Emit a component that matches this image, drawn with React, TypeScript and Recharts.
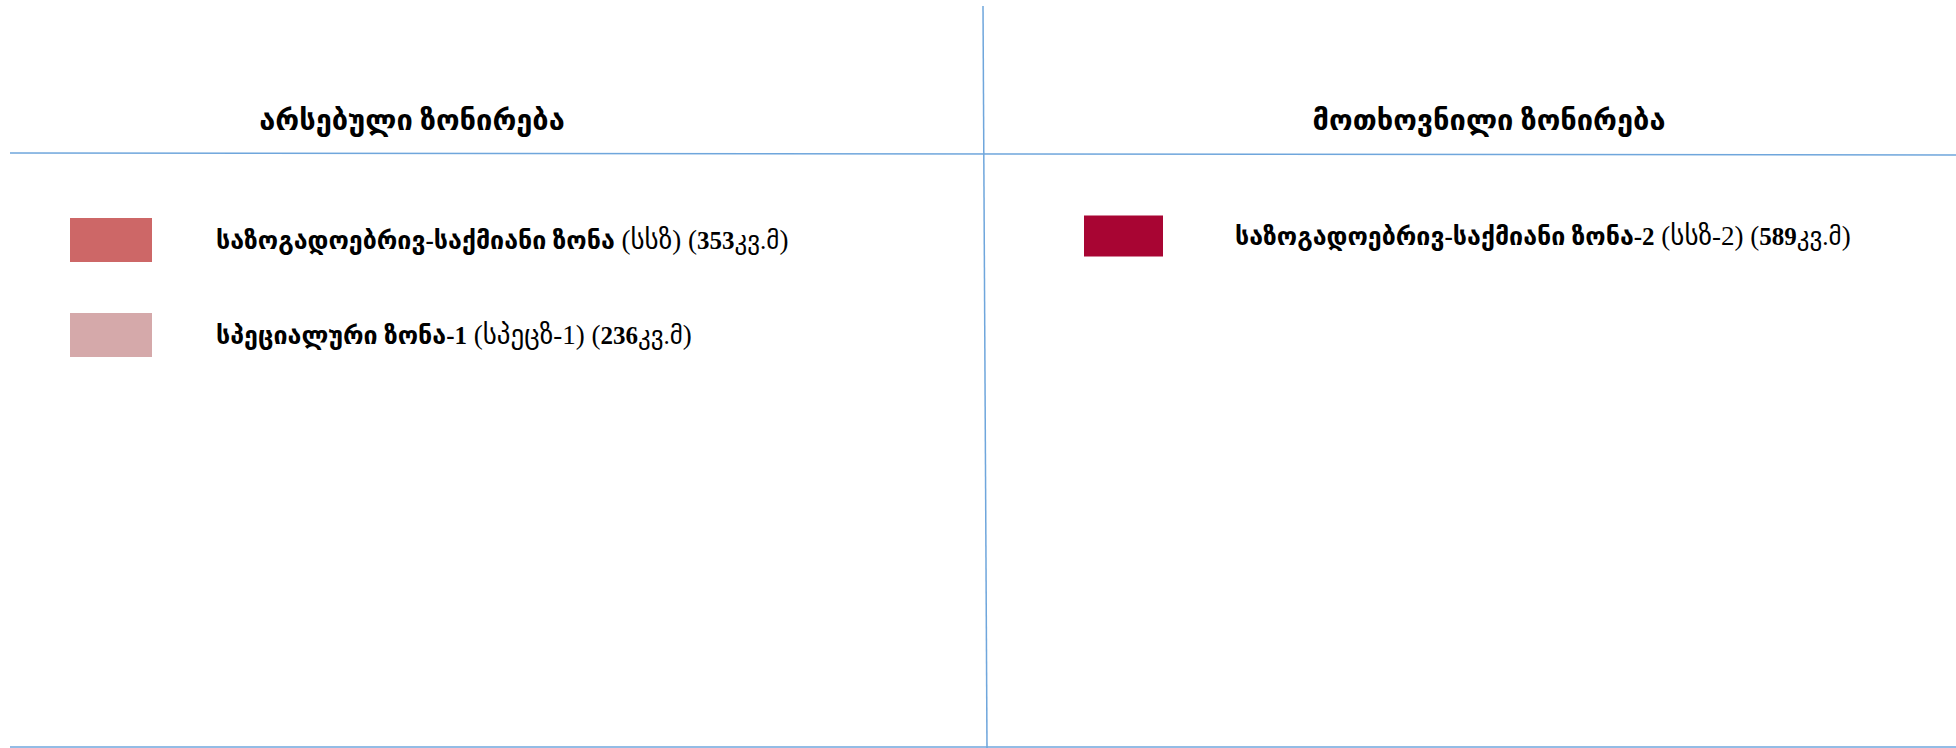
import { ComposedChart, Scatter, XAxis, YAxis, ReferenceLine } from 'recharts';

// panel headers
const headers = ['არსებული ზონირება', 'მოთხოვნილი ზონირება'];

// existing zoning (left panel)
const leftNames = ['საზოგადოებრივ-საქმიანი ზონა', 'სპეციალური ზონა-1'];
const leftCodes = ['სსზ', 'სპეცზ-1'];
const leftAreas = [353, 236];

// requested zoning (right panel)
const rightNames = ['საზოგადოებრივ-საქმიანი ზონა-2'];
const rightCodes = ['სსზ-2'];
const rightAreas = [589];

const leftColors = ['#CD6767', '#D5A9AA'];
const rightColors = ['#A80533'];

const W = 1956;
const H = 748;
const LINE = '#6FA6DC';
const FONT = '"Liberation Serif", "DejaVu Sans", serif';

const panelCenters = [412, 1489];
const swatchX = [70, 1084];
const rowTop = [240, 236];
const rowGap = 95;

const headerData = headers.map((h, i) => ({ x: panelCenters[i], y: 120, label: h }));

const leftData = leftNames.map((n, i) => ({
    x: swatchX[0], y: rowTop[0] + i * rowGap, name: n, code: leftCodes[i], area: leftAreas[i],
    color: leftColors[i], sw: 82, sh: 44, tx: 146,
}));
const rightData = rightNames.map((n, i) => ({
    x: swatchX[1], y: rowTop[1] + i * rowGap, name: n, code: rightCodes[i], area: rightAreas[i],
    color: rightColors[i], sw: 79, sh: 41, tx: 151,
}));

const HeaderShape = (props: any) => {
    const { cx, cy, payload } = props;
    return (
        <text x={cx} y={cy} textAnchor="middle" dominantBaseline="central" fontSize={29} fontWeight="bold" fontFamily={FONT} fill="#000">
            {payload.label}
        </text>
    );
};

const RowShape = (props: any) => {
    const { cx, cy, payload } = props;
    return (
        <g>
            <rect x={cx} y={cy - payload.sh / 2} width={payload.sw} height={payload.sh} fill={payload.color} />
            <text x={cx + payload.tx} y={cy} dominantBaseline="central" fontSize={25} fontFamily={FONT} fill="#000">
                <tspan fontWeight="bold">{payload.name}</tspan>
                <tspan fontSize={27}> ({payload.code}) (</tspan>
                <tspan fontWeight="bold">{payload.area}</tspan>
                <tspan>კვ.მ</tspan>
                <tspan fontSize={27}>)</tspan>
            </text>
        </g>
    );
};

export default function App() {
    return (
        <div style={{ position: 'absolute', left: 0, top: 0, width: W, height: H, background: '#fff' }}>
            <ComposedChart width={W} height={H} margin={{ top: 0, right: 0, bottom: 0, left: 0 }}>
                <XAxis type="number" dataKey="x" domain={[0, W]} hide allowDataOverflow />
                <YAxis type="number" dataKey="y" domain={[0, H]} reversed hide allowDataOverflow />
                <ReferenceLine segment={[{ x: 983, y: 6 }, { x: 987, y: 748 }]} stroke={LINE} strokeWidth={1.5} />
                <ReferenceLine segment={[{ x: 10, y: 153 }, { x: 1956, y: 155 }]} stroke={LINE} strokeWidth={1.5} />
                <ReferenceLine segment={[{ x: 10, y: 747 }, { x: 1956, y: 747 }]} stroke={LINE} strokeWidth={1.5} />
                <Scatter data={headerData} shape={HeaderShape} isAnimationActive={false} />
                <Scatter data={leftData} shape={RowShape} isAnimationActive={false} />
                <Scatter data={rightData} shape={RowShape} isAnimationActive={false} />
            </ComposedChart>
        </div>
    );
}
